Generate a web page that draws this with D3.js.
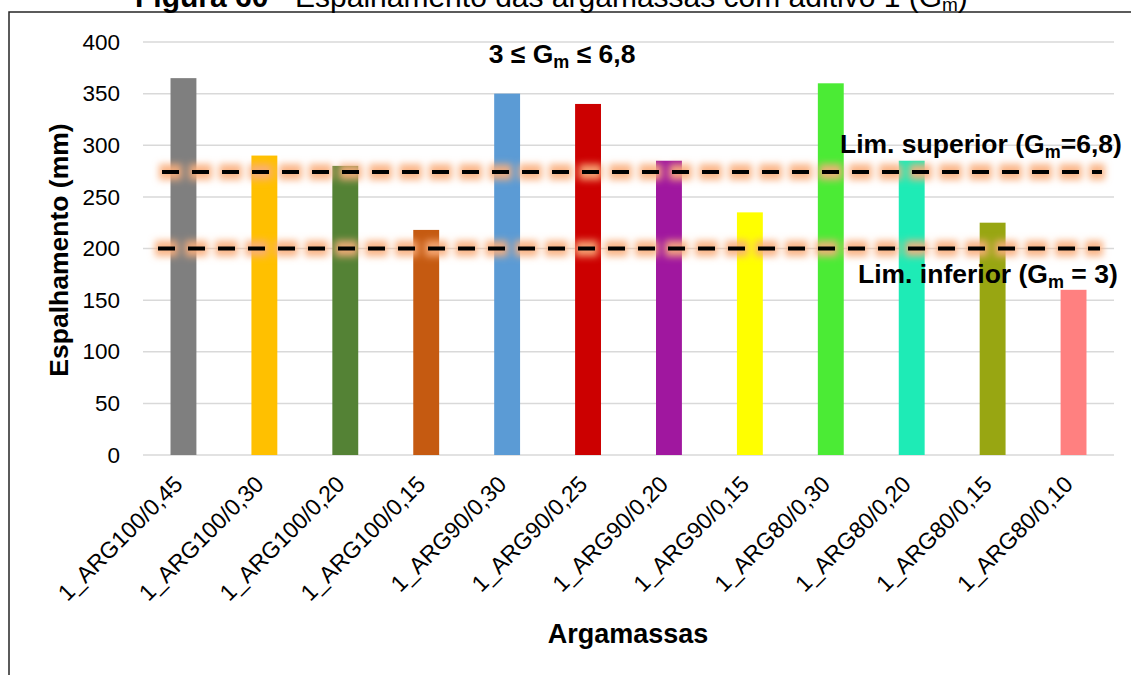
<!DOCTYPE html>
<html>
<head>
<meta charset="utf-8">
<script src="https://d3js.org/d3.v7.min.js"></script>
<style>
  html, body { margin: 0; padding: 0; background: #fff; }
  svg { display: block; font-family: "Liberation Sans", Arial, sans-serif; }
</style>
</head>
<body>
<svg id="chart" width="1131" height="675"></svg>
<script>
// Espalhamento (mm) das argamassas com aditivo 1
const categories = [
  "1_ARG100/0,45", "1_ARG100/0,30", "1_ARG100/0,20", "1_ARG100/0,15",
  "1_ARG90/0,30", "1_ARG90/0,25", "1_ARG90/0,20", "1_ARG90/0,15",
  "1_ARG80/0,30", "1_ARG80/0,20", "1_ARG80/0,15", "1_ARG80/0,10"
];
const values = [365, 290, 280, 218, 350, 340, 285, 235, 360, 285, 225, 160];
const barColors = [
  "#7F7F7F", "#FFC000", "#548235", "#C55A11",
  "#5B9BD5", "#CC0000", "#A0179F", "#FFFF00",
  "#4BEB35", "#1EEBB6", "#98A612", "#FF8080"
];
const yTicks = [0, 50, 100, 150, 200, 250, 300, 350, 400];
// Limites de G_m (6,8 superior, 3 inferior) expressos em espalhamento
const limitValues = [274, 200];

const svg = d3.select("#chart");

const x = d3.scaleBand()
  .domain(categories)
  .range([143, 1114])
  .paddingInner(0.68)
  .paddingOuter(0.34);

const y = d3.scaleLinear()
  .domain([0, 400])
  .range([455, 42]);

// Moldura da figura
svg.append("path")
  .attr("d", "M9,675 V12 H1131")
  .attr("fill", "none")
  .attr("stroke", "#262626")
  .attr("stroke-width", 1.5);

// Título (parcialmente fora da área visível)
const title = svg.append("text")
  .attr("x", 135)
  .attr("y", 7)
  .attr("font-size", 30)
  .attr("fill", "#000");
title.append("tspan").attr("font-weight", "bold").text("Figura 60");
title.append("tspan").text(" - Espalhamento das argamassas com aditivo 1 (G");
title.append("tspan").attr("font-size", 19).attr("dy", 4).text("m");
title.append("tspan").attr("dy", -4).text(")");

// Linhas de grade
svg.append("g")
  .selectAll("line")
  .data(yTicks)
  .join("line")
  .attr("x1", x.range()[0])
  .attr("x2", x.range()[1])
  .attr("y1", d => y(d))
  .attr("y2", d => y(d))
  .attr("stroke", "#D9D9D9")
  .attr("stroke-width", 1.5);

// Eixo Y
const yAxis = svg.append("g")
  .attr("transform", `translate(${x.range()[0]},0)`)
  .call(d3.axisLeft(y).tickValues(yTicks).tickSize(0).tickPadding(23));
yAxis.select(".domain").remove();
yAxis.selectAll("text")
  .attr("font-family", "Liberation Sans, Arial, sans-serif")
  .attr("font-size", 22.5)
  .attr("fill", "#000");

// Barras
svg.append("g")
  .selectAll("rect")
  .data(values)
  .join("rect")
  .attr("x", (d, i) => x(categories[i]))
  .attr("width", x.bandwidth())
  .attr("y", d => y(d))
  .attr("height", d => y(0) - y(d))
  .attr("fill", (d, i) => barColors[i]);

// Eixo X com rótulos inclinados a 45°
const xAxis = svg.append("g")
  .attr("transform", `translate(0,${y(0)})`)
  .call(d3.axisBottom(x).tickSize(0));
xAxis.select(".domain").remove();
xAxis.selectAll("text")
  .attr("font-family", "Liberation Sans, Arial, sans-serif")
  .attr("font-size", 23)
  .attr("fill", "#000")
  .attr("text-anchor", "end")
  .attr("x", 0)
  .attr("y", 0)
  .attr("dy", "0.72em")
  .attr("transform", "translate(-11,19) rotate(-45)");

// Filtro de brilho das linhas-limite
const defs = svg.append("defs");
const glow = defs.append("filter")
  .attr("id", "glow")
  .attr("filterUnits", "userSpaceOnUse")
  .attr("x", 0).attr("y", 0)
  .attr("width", 1131).attr("height", 675);
glow.append("feGaussianBlur").attr("stdDeviation", 3.5);

const limitStarts = [19, 15];
const limitEnds = [12, 14];
const limits = svg.append("g");
limitValues.forEach((v, i) => {
  const x1 = x.range()[0] + limitStarts[i];
  const x2 = x.range()[1] - limitEnds[i];
  limits.append("line")
    .attr("x1", x1 - 3).attr("x2", x2 + 3)
    .attr("y1", y(v)).attr("y2", y(v))
    .attr("stroke", "#F9AE7C")
    .attr("stroke-opacity", 0.9)
    .attr("stroke-width", 16)
    .attr("stroke-dasharray", "23 7")
    .attr("filter", "url(#glow)");
  limits.append("line")
    .attr("x1", x1).attr("x2", x2)
    .attr("y1", y(v)).attr("y2", y(v))
    .attr("stroke", "#000")
    .attr("stroke-width", 4)
    .attr("stroke-dasharray", "17 13");
});

// Anotações
function subLabel(xPos, yPos, anchor, before, after) {
  const t = svg.append("text")
    .attr("x", xPos).attr("y", yPos)
    .attr("text-anchor", anchor)
    .attr("font-size", 26.5)
    .attr("font-weight", "bold")
    .attr("fill", "#000");
  t.append("tspan").text(before);
  t.append("tspan").attr("font-size", 18).attr("dy", 5).text("m");
  t.append("tspan").attr("dy", -5).text(after);
}
subLabel(562, 63, "middle", "3 ≤ G", " ≤ 6,8");
subLabel(840, y(limitValues[0]) - 19, "start", "Lim. superior (G", "=6,8)");
subLabel(858, y(limitValues[1]) + 34, "start", "Lim. inferior (G", " = 3)");

// Títulos dos eixos
svg.append("text")
  .attr("transform", "translate(68,250) rotate(-90)")
  .attr("text-anchor", "middle")
  .attr("font-size", 26.5)
  .attr("font-weight", "bold")
  .text("Espalhamento (mm)");

svg.append("text")
  .attr("x", 628).attr("y", 643)
  .attr("text-anchor", "middle")
  .attr("font-size", 27)
  .attr("font-weight", "bold")
  .text("Argamassas");
</script>
</body>
</html>
